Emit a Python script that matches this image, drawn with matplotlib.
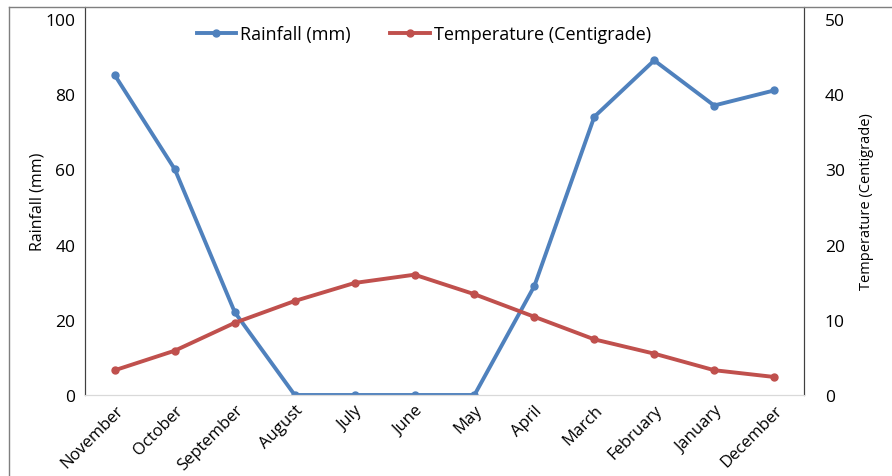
import matplotlib.pyplot as plt
from matplotlib.lines import Line2D

plt.rcParams['font.family'] = ['Open Sans', 'DejaVu Sans']

months = ['November', 'October', 'September', 'August', 'July', 'June',
          'May', 'April', 'March', 'February', 'January', 'December']
rainfall = [85, 60, 22, 0, 0, 0, 0, 29, 74, 89, 77, 81]
temperature = [3.3, 5.9, 9.6, 12.5, 14.9, 16.0, 13.4, 10.4, 7.4, 5.5, 3.3, 2.4]
rain_ticks = [0, 20, 40, 60, 80, 100]
temp_ticks = [0, 10, 20, 30, 40, 50]

blue = '#4f81bd'
red = '#c0504d'

fig = plt.figure(figsize=(8.92, 4.77), dpi=100)
ax = fig.add_axes([85 / 892, 81 / 477, 719 / 892, 388 / 477])
ax2 = ax.twinx()

x = range(len(months))
l1, = ax.plot(x, rainfall, color=blue, lw=2.8, marker='o', ms=5, label='Rainfall (mm)')
l2, = ax2.plot(x, temperature, color=red, lw=2.8, marker='o', ms=5,
               label='Temperature (Centigrade)')

ax.set_xlim(-0.5, 11.5)
ax.set_ylim(0, 103.2)
ax2.set_ylim(0, 51.6)
ax.set_yticks(rain_ticks)
ax2.set_yticks(temp_ticks)
ax.set_xticks(list(x))
ax.set_xticklabels(months, rotation=45, ha='right', rotation_mode='anchor', fontsize=12)
ax.tick_params(axis='y', length=0, pad=7, labelsize=12.5)
ax2.tick_params(axis='y', length=0, pad=15, labelsize=12.5)
ax.tick_params(axis='x', length=0, pad=5)

ax.set_ylabel('Rainfall (mm)', fontsize=11.5, labelpad=0)
ax2.set_ylabel('Temperature (Centigrade)', fontsize=10.5, labelpad=10)

for a in (ax, ax2):
    a.spines['top'].set_visible(False)
    a.spines['bottom'].set_color('#d9d9d9')
    a.spines['left'].set_color('#404040')
    a.spines['right'].set_color('#404040')

ax.legend(handles=[l1, l2], loc='upper center', bbox_to_anchor=(0.471, 0.995),
          ncol=2, frameon=False, fontsize=13, handlelength=2.2,
          handletextpad=0.2, columnspacing=2.2)

# outer chart border (left and top)
fig.add_artist(Line2D([9 / 892, 9 / 892], [0, 469 / 477], color='#7f7f7f', lw=1))
fig.add_artist(Line2D([9 / 892, 1], [469 / 477, 469 / 477], color='#7f7f7f', lw=1))

fig.savefig('out.png', dpi=100)
